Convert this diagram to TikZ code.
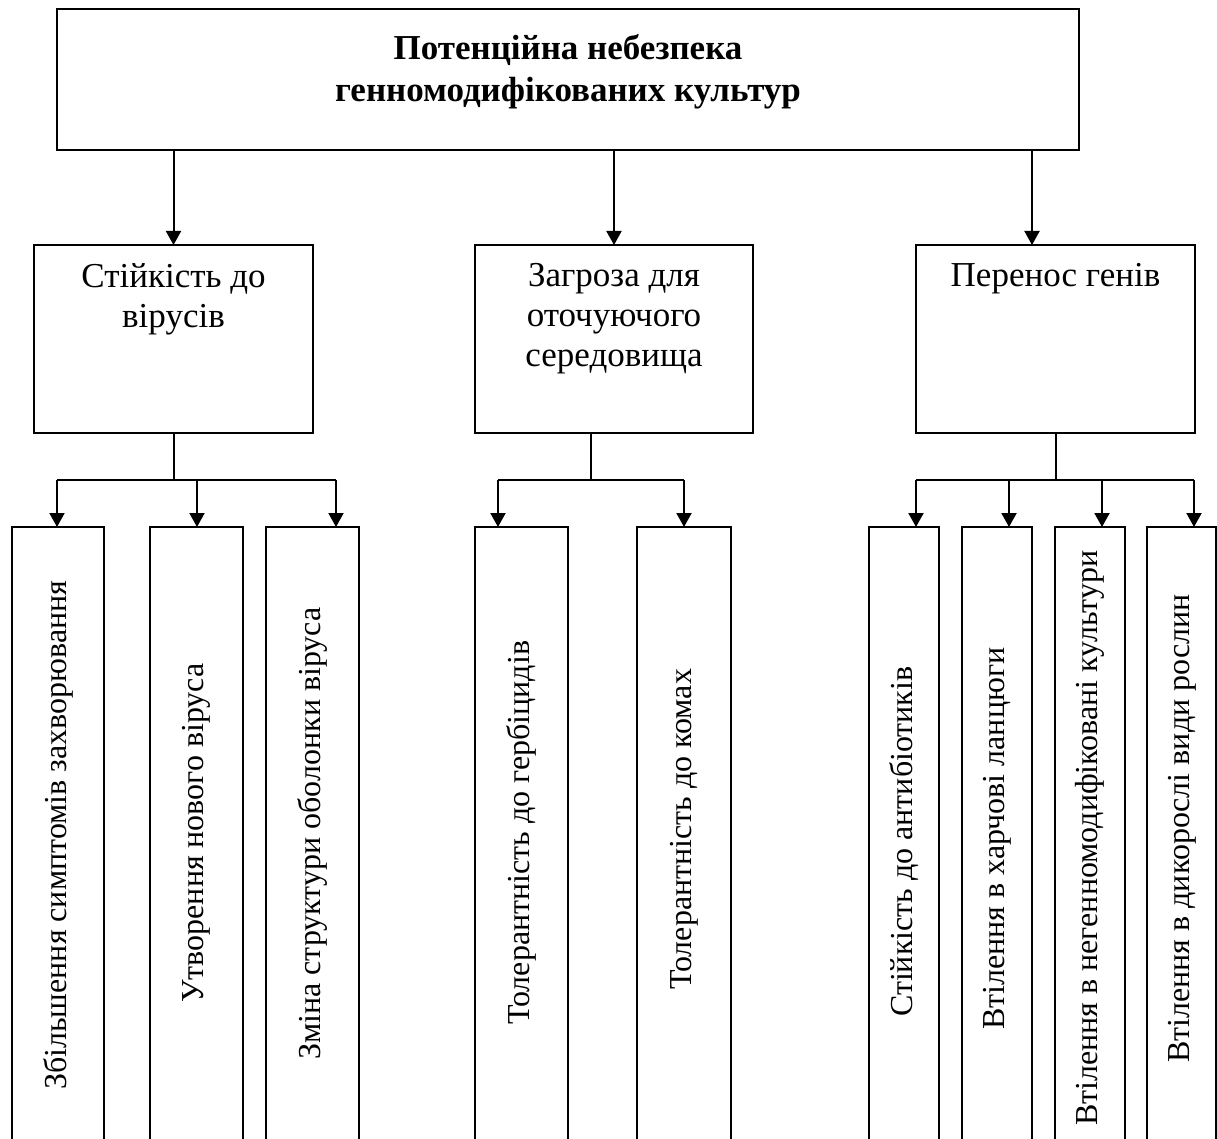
\documentclass[tikz,border=0pt]{standalone}
\usepackage{fontspec}
\setmainfont{Liberation Serif}
\usetikzlibrary{arrows.meta}
\begin{document}
\begin{tikzpicture}[x=1pt,y=-1pt,
  box/.style={draw,line width=2pt,inner sep=0pt,outer sep=0pt,anchor=north west},
  conn/.style={line width=2pt},
  arr/.style={line width=2pt,-{Triangle[width=15pt,length=14pt]}},
  ttl/.style={inner sep=0pt,align=center,anchor=north,font=\fontsize{35}{42}\selectfont\bfseries},
  lbl/.style={inner sep=0pt,align=center,anchor=north,font=\fontsize{35}{40}\selectfont},
  vlbl/.style={inner sep=0pt,rotate=90,anchor=west,font=\fontsize{32}{38}\selectfont}]
\useasboundingbox (0,0) rectangle (1217,1139);
\fill[white] (0,0) rectangle (1217,1139);
\clip (0,0) rectangle (1217,1139);

% top box
\node[box,minimum width=1022pt,minimum height=141pt] (top) at (57,9) {};
\node[ttl] (title) at (568,34) {Потенційна небезпека\\генномодифікованих культур};

% second level
\node[box,minimum width=279pt,minimum height=188pt] (b1) at (34,245) {};
\node[box,minimum width=278pt,minimum height=188pt] (b2) at (475,245) {};
\node[box,minimum width=279pt,minimum height=188pt] (b3) at (916,245) {};
\node[lbl] (t1) at (173.5,263) {Стійкість до\\вірусів};
\node[lbl] (t2) at (614,263) {Загроза для\\оточуючого\\середовища};
\node[lbl] (t3) at (1055.5,263) {Перенос генів};

\draw[arr] (top.south -| b1.north) -- (b1.north);
\draw[arr] (top.south -| b2.north) -- (b2.north);
\coordinate (c3) at (1032,150);
\draw[arr] (c3) -- (c3 |- b3.north);

% leaves
\node[box,minimum width=92pt,minimum height=640pt] (la) at (12,527) {};
\node[box,minimum width=93pt,minimum height=640pt] (lb) at (150,527) {};
\node[box,minimum width=93pt,minimum height=640pt] (lc) at (266,527) {};
\node[box,minimum width=93pt,minimum height=640pt] (ld) at (475,527) {};
\node[box,minimum width=94pt,minimum height=640pt] (le) at (637,527) {};
\node[box,minimum width=70pt,minimum height=640pt] (lf) at (869,527) {};
\node[box,minimum width=70pt,minimum height=640pt] (lg) at (962,527) {};
\node[box,minimum width=70pt,minimum height=640pt] (lh) at (1055,527) {};
\node[box,minimum width=69pt,minimum height=640pt] (li) at (1147,527) {};

\node[vlbl] (xa) at (58,1090) {Збільшення симптомів захворювання};
\node[vlbl] (xb) at (196,1003) {Утворення нового віруса};
\node[vlbl] (xc) at (312,1060) {Зміна структури оболонки віруса};
\node[vlbl] (xd) at (521,1025) {Толерантність до гербіцидів};
\node[vlbl] (xe) at (684,990) {Толерантність до комах};
\node[vlbl] (xf) at (904,1017) {Стійкість до антибіотиків};
\node[vlbl] (xg) at (997,1030) {Втілення в харчові ланцюги};
\node[vlbl] (xh) at (1090,1126) {Втілення в негенномодифіковані культури};
\node[vlbl] (xi) at (1182,1063) {Втілення в дикорослі види рослин};

% group 1
\coordinate (a1) at (57,480);
\coordinate (a2) at (197,480);
\coordinate (a3) at (336,480);
\draw[conn] (b1.south) -- (b1.south |- a1);
\draw[conn] (a1) -- (a3);
\draw[arr] (a1) -- (a1 |- la.north);
\draw[arr] (a2) -- (a2 |- lb.north);
\draw[arr] (a3) -- (a3 |- lc.north);

% group 2
\coordinate (j2) at (591,480);
\coordinate (d1) at (498,480);
\coordinate (d2) at (684,480);
\draw[conn] (j2 |- b2.south) -- (j2);
\draw[conn] (d1) -- (d2);
\draw[arr] (d1) -- (d1 |- ld.north);
\draw[arr] (d2) -- (d2 |- le.north);

% group 3
\coordinate (g1) at (916,480);
\coordinate (g2) at (1009,480);
\coordinate (g3) at (1102,480);
\coordinate (g4) at (1194,480);
\draw[conn] (b3.south) -- (b3.south |- g1);
\draw[conn] (g1) -- (g4);
\draw[arr] (g1) -- (g1 |- lf.north);
\draw[arr] (g2) -- (g2 |- lg.north);
\draw[arr] (g3) -- (g3 |- lh.north);
\draw[arr] (g4) -- (g4 |- li.north);
\end{tikzpicture}
\end{document}
